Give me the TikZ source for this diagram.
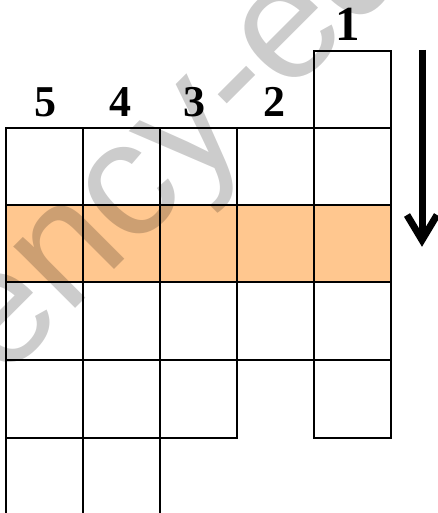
\documentclass[tikz,border=0pt]{standalone}
\usepackage{fontspec}
\setmainfont{Liberation Serif}
\newfontfamily\wmfont{Liberation Sans}
\definecolor{rowfill}{RGB}{255,199,143}
\begin{document}
\begin{tikzpicture}[x=1pt,y=-1pt,
  gridline/.style={line width=1.6pt,black,line cap=rect},
  colnum/.style={font=\bfseries\fontsize{44}{44}\selectfont,inner sep=0pt,anchor=base},
  marker/.style={line width=7pt,black}]
\useasboundingbox (0,0) rectangle (437,513);
\fill[rowfill] (6,205) rectangle (391,282);
% vertical lines
\draw[gridline] (6,128) -- (6,520);
\draw[gridline] (83,128) -- (83,520);
\draw[gridline] (160,128) -- (160,520);
\draw[gridline] (237,128) -- (237,438);
\draw[gridline] (314,51) -- (314,438);
\draw[gridline] (391,51) -- (391,438);
% horizontal lines
\draw[gridline] (314,51) -- (391,51);
\draw[gridline] (6,128) -- (391,128);
\draw[gridline] (6,205) -- (391,205);
\draw[gridline] (6,282) -- (391,282);
\draw[gridline] (6,360) -- (391,360);
\draw[gridline] (6,438) -- (237,438);
\draw[gridline] (314,438) -- (391,438);
% labels
\node[colnum] (l5) at (45,117) {5};
\node[colnum] (l4) at (120,117) {4};
\node[colnum] (l3) at (194,117) {3};
\node[colnum] (l2) at (274,117) {2};
\node[colnum,font=\bfseries\fontsize{49}{49}\selectfont] (l1) at (348,41) {1};
% arrow
\draw[marker] (422,50) -- (422,236);
\draw[marker,line join=miter] (407,215) -- (422,240) -- (437,215);
% watermark
\begin{scope}
\clip (0,0) rectangle (437,513);
\node[black,opacity=0.2,font=\wmfont\fontsize{165}{165}\selectfont,inner sep=0pt,anchor=base west,rotate=45] (wm) at (2,382) {ency-edu};
\end{scope}
\end{tikzpicture}
\end{document}
